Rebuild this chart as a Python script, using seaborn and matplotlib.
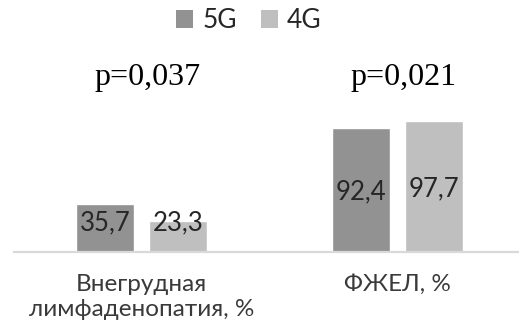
import matplotlib
matplotlib.use("Agg")
import matplotlib.pyplot as plt
from matplotlib.patches import Patch
import seaborn as sns
import pandas as pd

categories = ["Внегрудная\nлимфаденопатия, %", "ФЖЕЛ, %"]
series_names = ["5G", "4G"]
values_5g = [35.7, 92.4]
values_4g = [23.3, 97.7]
p_values = ["p=0,037", "p=0,021"]

colors = {"5G": "#929292", "4G": "#bfbfbf"}

df = pd.DataFrame({
    "category": categories * 2,
    "group": [series_names[0]] * 2 + [series_names[1]] * 2,
    "value": values_5g + values_4g,
})

sns.set_theme(style="white")
plt.rcParams["font.family"] = ["Lato", "DejaVu Sans"]

W, H = 519, 331
fig = plt.figure(figsize=(W / 100, H / 100), dpi=100)
# axes: left edge 13.5px, right edge 518px, baseline at y=252px, 100 units = 134.5px
ax = fig.add_axes([13.5 / W, (H - 252) / H, (518 - 13.5) / W, 134.5 / H])

sns.barplot(data=df, x="category", y="value", hue="group", order=categories,
            hue_order=series_names, palette=colors, width=0.57, gap=0.205,
            saturation=1, legend=False, ax=ax, errorbar=None)

ax.set_xlim(-0.5, -0.5 + (518 - 13.5) / 256)
ax.set_ylim(0, 100)
for s in ["top", "right", "left"]:
    ax.spines[s].set_visible(False)
ax.spines["bottom"].set_color("#d9d9d9")
ax.spines["bottom"].set_linewidth(1.6)
ax.set_yticks([])
ax.set_xlabel("")
ax.set_ylabel("")
ax.tick_params(axis="x", length=0, pad=16, labelsize=17.5)
for lbl in ax.get_xticklabels():
    lbl.set_color("#3a3a3a")
    lbl.set_linespacing(1.2)

# value labels centred in the bars, kept clear of the baseline on short bars
for cont in ax.containers:
    for bar, v in zip(cont.patches, cont.datavalues):
        x = bar.get_x() + bar.get_width() / 2
        y = max(v / 2 - 1.5, 21.5)
        ax.text(x, y, f"{v:.1f}".replace(".", ","), ha="center", va="center",
                fontsize=18.5, color="#262626")

for i, p in enumerate(p_values):
    ax.text(i + 0.025, 130, p, ha="center", va="center", fontsize=23,
            family="Liberation Serif", color="black")

# legend above the plot
handles = [Patch(facecolor=colors[n], edgecolor="none") for n in series_names]
fig.legend(handles, series_names, loc="center", bbox_to_anchor=(249 / W, 1 - 21 / H),
           ncol=2, frameon=False, fontsize=19, handlelength=0.65, handleheight=0.65,
           handletextpad=0.35, columnspacing=0.9, labelcolor="#262626")

fig.savefig("out.png", dpi=100)
